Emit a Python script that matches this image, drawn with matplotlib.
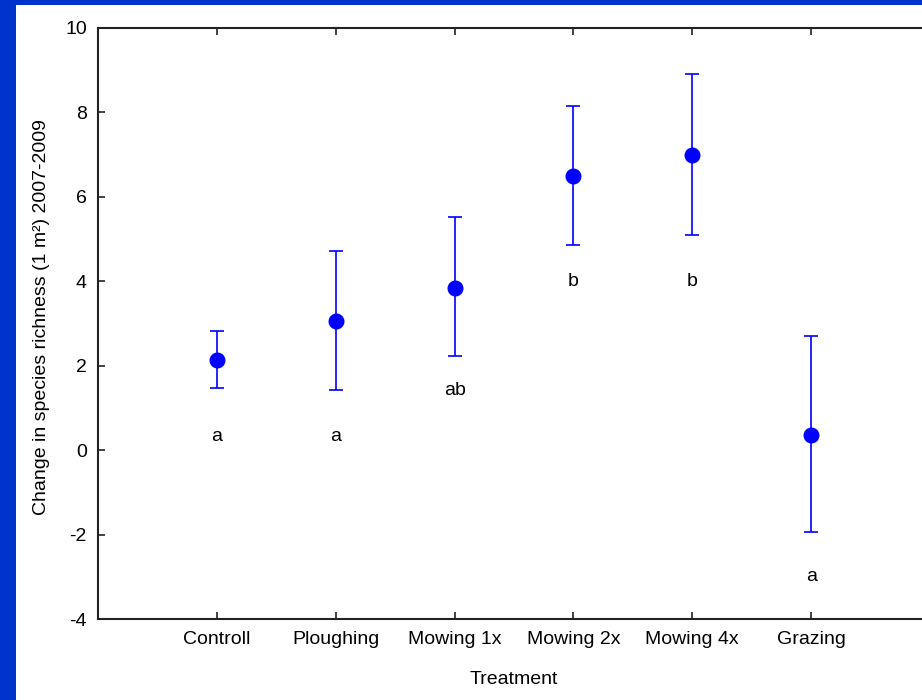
import matplotlib
matplotlib.use("Agg")
import matplotlib.pyplot as plt
from matplotlib.patches import Rectangle

categories = ["Controll", "Ploughing", "Mowing 1x", "Mowing 2x", "Mowing 4x", "Grazing"]
means = [2.14, 3.06, 3.84, 6.49, 6.99, 0.35]
upper = [2.83, 4.72, 5.53, 8.15, 8.91, 2.70]
lower = [1.48, 1.42, 2.23, 4.86, 5.10, -1.94]
letters = ["a", "a", "ab", "b", "b", "a"]
letter_y = [0.33, 0.33, 1.42, 4.0, 4.0, -3.0]

W, H = 922, 700
fig = plt.figure(figsize=(W / 100, H / 100), dpi=100)
fig.patch.set_facecolor("#0033CC")
fig.patches.append(Rectangle((16 / W, 0), 1, 1 - 5 / H, transform=fig.transFigure,
                             facecolor="white", edgecolor="none", zorder=-5))

plt.rcParams["font.family"] = ["Liberation Sans", "DejaVu Sans"]
fs = 14

left_px, right_px, top_px, bot_px = 98, 930, 28, 619
ax = fig.add_axes([left_px / W, 1 - bot_px / H, (right_px - left_px) / W, (bot_px - top_px) / H])
ax.set_facecolor("none")

x = list(range(1, len(categories) + 1))
yerr = [[m - l for m, l in zip(means, lower)], [u - m for m, u in zip(means, upper)]]
ax.errorbar(x, means, yerr=yerr, fmt="o", color="#0000FF", ecolor="#0000FF",
            markersize=10.5, elinewidth=1.2, capsize=5, capthick=1.2, zorder=3)

for xi, lab, ly in zip(x, letters, letter_y):
    ax.text(xi, ly, lab, ha="center", va="center", fontsize=fs, color="black")

ax.set_xlim(0, 7)
ax.set_ylim(-4, 10)
ax.set_xticks(x)
ax.set_xticklabels(categories, fontsize=fs)
ax.set_yticks(range(-4, 11, 2))
ax.set_yticklabels([str(v) for v in range(-4, 11, 2)], fontsize=fs)
ax.tick_params(direction="in", length=5, width=1.2, color="#222222",
               top=True, right=False, pad=8)
ax.tick_params(axis="x", pad=9)
for s in ["left", "bottom", "top", "right"]:
    ax.spines[s].set_linewidth(1.5)
    ax.spines[s].set_color("#222222")

fig.text(42 / W, 1 - 317 / H, "Change in species richness (1 m²) 2007-2009",
         rotation=90, ha="center", va="center", fontsize=fs)
fig.text(514 / W, 1 - 680 / H, "Treatment", ha="center", va="center", fontsize=fs)

fig.savefig("out.png", dpi=100, facecolor=fig.get_facecolor())
